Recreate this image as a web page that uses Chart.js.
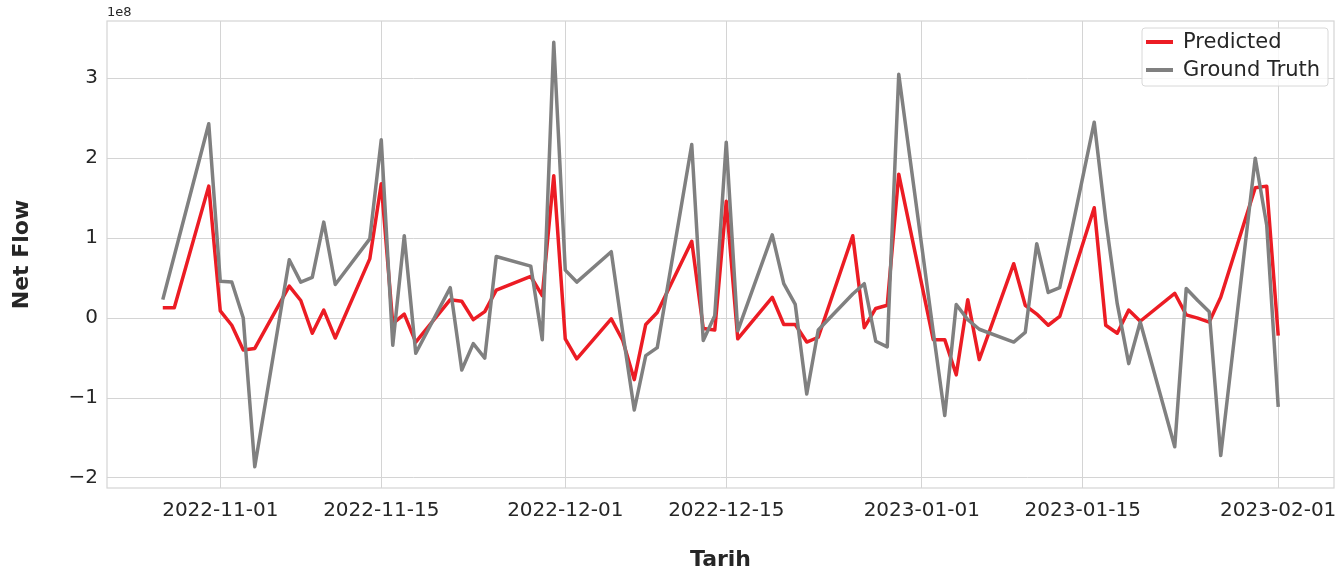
<!DOCTYPE html>
<html>
<head>
<meta charset="utf-8">
<script src="https://cdn.jsdelivr.net/npm/chart.js@4.4.1/dist/chart.umd.min.js"></script>
<style>
  html, body { margin: 0; padding: 0; background: #fff; }
  #wrap { width: 1340px; height: 574px; }
</style>
</head>
<body>
<div id="wrap"><canvas id="netFlowChart" width="1340" height="574"></canvas></div>
<script>
// trading days shown in the plot
const dates = [
	'2022-10-27', '2022-10-28', '2022-10-31', '2022-11-01', '2022-11-02', '2022-11-03', '2022-11-04',
	'2022-11-07', '2022-11-08', '2022-11-09', '2022-11-10', '2022-11-11',
	'2022-11-14', '2022-11-15', '2022-11-16', '2022-11-17', '2022-11-18',
	'2022-11-21', '2022-11-22', '2022-11-23', '2022-11-24', '2022-11-25',
	'2022-11-28', '2022-11-29', '2022-11-30', '2022-12-01', '2022-12-02',
	'2022-12-05', '2022-12-06', '2022-12-07', '2022-12-08', '2022-12-09',
	'2022-12-12', '2022-12-13', '2022-12-14', '2022-12-15', '2022-12-16',
	'2022-12-19', '2022-12-20', '2022-12-21', '2022-12-22', '2022-12-23',
	'2022-12-26', '2022-12-27', '2022-12-28', '2022-12-29', '2022-12-30',
	'2023-01-02', '2023-01-03', '2023-01-04', '2023-01-05', '2023-01-06',
	'2023-01-09', '2023-01-10', '2023-01-11', '2023-01-12', '2023-01-13',
	'2023-01-16', '2023-01-17', '2023-01-18', '2023-01-19', '2023-01-20',
	'2023-01-23', '2023-01-24', '2023-01-25', '2023-01-26', '2023-01-27',
	'2023-01-30', '2023-01-31', '2023-02-01',
];

// values in units of 1e8
const predicted = [
	0.13, 0.13, 1.65, 0.09, -0.09, -0.40, -0.38,
	0.40, 0.22, -0.19, 0.10, -0.25,
	0.74, 1.68, -0.07, 0.05, -0.30,
	0.23, 0.21, -0.02, 0.08, 0.35,
	0.52, 0.28, 1.78, -0.26, -0.51,
	-0.01, -0.28, -0.77, -0.08, 0.07,
	0.96, -0.13, -0.15, 1.46, -0.26,
	0.26, -0.08, -0.08, -0.30, -0.24,
	1.03, -0.12, 0.12, 0.16, 1.80,
	-0.27, -0.27, -0.71, 0.23, -0.52,
	0.68, 0.16, 0.05, -0.09, 0.02,
	1.38, -0.09, -0.19, 0.10, -0.04,
	0.31, 0.04, 0.00, -0.05, 0.26,
	1.63, 1.65, -0.22,
];

const groundTruth = [
	0.23, 0.78, 2.43, 0.46, 0.45, 0.00, -1.86,
	0.73, 0.45, 0.51, 1.20, 0.42,
	0.99, 2.23, -0.34, 1.03, -0.44,
	0.38, -0.65, -0.32, -0.50, 0.77,
	0.65, -0.27, 3.45, 0.60, 0.45,
	0.83, -0.18, -1.15, -0.47, -0.37,
	2.17, -0.28, 0.03, 2.20, -0.16,
	1.04, 0.43, 0.17, -0.95, -0.15,
	0.30, 0.43, -0.29, -0.36, 3.05,
	-0.17, -1.22, 0.17, -0.02, -0.14,
	-0.30, -0.18, 0.93, 0.32, 0.38,
	2.45, 1.23, 0.18, -0.57, -0.05,
	-1.61, 0.37, 0.22, 0.08, -1.72,
	2.00, 1.16, -1.11,
];

const xTickLabels = ['2022-11-01', '2022-11-15', '2022-12-01', '2022-12-15', '2023-01-01', '2023-01-15', '2023-02-01'];
const yTicks = [-2, -1, 0, 1, 2, 3];

const toMs = (s) => Date.parse(s + 'T00:00:00Z');
const textColor = '#262626';
const gridColor = '#d4d4d4';
const fontFamily = "'DejaVu Sans', sans-serif";

// matplotlib-like 5% margins
const xs = dates.map(toMs);
const xPad = (xs[xs.length - 1] - xs[0]) * 0.05;
const allY = predicted.concat(groundTruth);
const yLo = Math.min(...allY);
const yHi = Math.max(...allY);
const yPad = (yHi - yLo) * 0.05;

// frame, offset text and legend box
const extras = {
	id: 'extras',
	afterDraw(chart) {
		const { ctx, chartArea: a } = chart;
		ctx.save();
		ctx.strokeStyle = gridColor;
		ctx.lineWidth = 1.2;
		ctx.strokeRect(a.left, a.top, a.right - a.left, a.bottom - a.top);

		ctx.fillStyle = textColor;
		ctx.font = '13px ' + fontFamily;
		ctx.textAlign = 'left';
		ctx.textBaseline = 'bottom';
		ctx.fillText('1e8', a.left, a.top - 2);

		// legend
		const bw = 186, bh = 58;
		const bx = a.right - 6 - bw, by = a.top + 7;
		ctx.fillStyle = 'rgba(255,255,255,0.8)';
		ctx.strokeStyle = '#d8d8d8';
		ctx.lineWidth = 1;
		ctx.beginPath();
		ctx.roundRect(bx, by, bw, bh, 3);
		ctx.fill();
		ctx.stroke();
		ctx.font = '21px ' + fontFamily;
		ctx.textBaseline = 'middle';
		chart.data.datasets.forEach((ds, i) => {
			const cy = by + 14 + i * 28;
			ctx.strokeStyle = ds.borderColor;
			ctx.lineWidth = 4;
			ctx.beginPath();
			ctx.moveTo(bx + 4, cy);
			ctx.lineTo(bx + 31, cy);
			ctx.stroke();
			ctx.fillStyle = textColor;
			ctx.fillText(ds.label, bx + 41, cy + 1);
		});
		ctx.restore();
	},
};

const ctx = document.getElementById('netFlowChart').getContext('2d');
const netFlowChart = new Chart(ctx, {
	type: 'line',
	data: {
		datasets: [
			{
				label: 'Predicted',
				data: xs.map((x, i) => ({ x: x, y: predicted[i] })),
				borderColor: '#ec1c24',
				borderWidth: 3.5,
				order: 2,
			},
			{
				label: 'Ground Truth',
				data: xs.map((x, i) => ({ x: x, y: groundTruth[i] })),
				borderColor: '#808080',
				borderWidth: 3.5,
				order: 1,
			},
		],
	},
	options: {
		responsive: false,
		animation: false,
		devicePixelRatio: 1,
		layout: { padding: { left: 0, right: 6, top: 21, bottom: 0 } },
		elements: {
			point: { radius: 0, hoverRadius: 0 },
			line: { tension: 0, borderJoinStyle: 'round', borderCapStyle: 'butt' },
		},
		plugins: {
			legend: { display: false },
			tooltip: { enabled: false },
		},
		scales: {
			x: {
				type: 'linear',
				min: xs[0] - xPad,
				max: xs[xs.length - 1] + xPad,
				afterBuildTicks: (s) => {
					s.ticks = xTickLabels.map((l) => ({ value: toMs(l) }));
				},
				afterFit: (s) => {
					s.height = 86;
					s.paddingLeft = 0;
					s.paddingRight = 0;
				},
				ticks: {
					autoSkip: false,
					maxRotation: 0,
					padding: 11,
					color: textColor,
					font: { family: fontFamily, size: 20 },
					callback: (v) => {
						const hit = xTickLabels.find((l) => toMs(l) === v);
						return hit || '';
					},
				},
				grid: { color: gridColor, lineWidth: 1, drawTicks: false },
				border: { display: false },
				title: {
					display: true,
					text: 'Tarih',
					color: textColor,
					font: { family: fontFamily, size: 22, weight: 'bold' },
					padding: { top: 0, bottom: 1 },
				},
			},
			y: {
				type: 'linear',
				min: yLo - yPad,
				max: yHi + yPad,
				afterBuildTicks: (s) => {
					s.ticks = yTicks.map((v) => ({ value: v }));
				},
				afterFit: (s) => {
					s.width = 107;
					s.paddingTop = 0;
					s.paddingBottom = 0;
				},
				ticks: {
					padding: 9,
					color: textColor,
					font: { family: fontFamily, size: 20 },
					callback: (v) => (v < 0 ? '\u2212' + Math.abs(v) : String(v)),
				},
				grid: { color: gridColor, lineWidth: 1, drawTicks: false },
				border: { display: false },
				title: {
					display: true,
					text: 'Net Flow',
					color: textColor,
					font: { family: fontFamily, size: 22, weight: 'bold' },
					padding: { top: 9, bottom: 0 },
				},
			},
		},
	},
	plugins: [extras],
});
</script>
</body>
</html>
